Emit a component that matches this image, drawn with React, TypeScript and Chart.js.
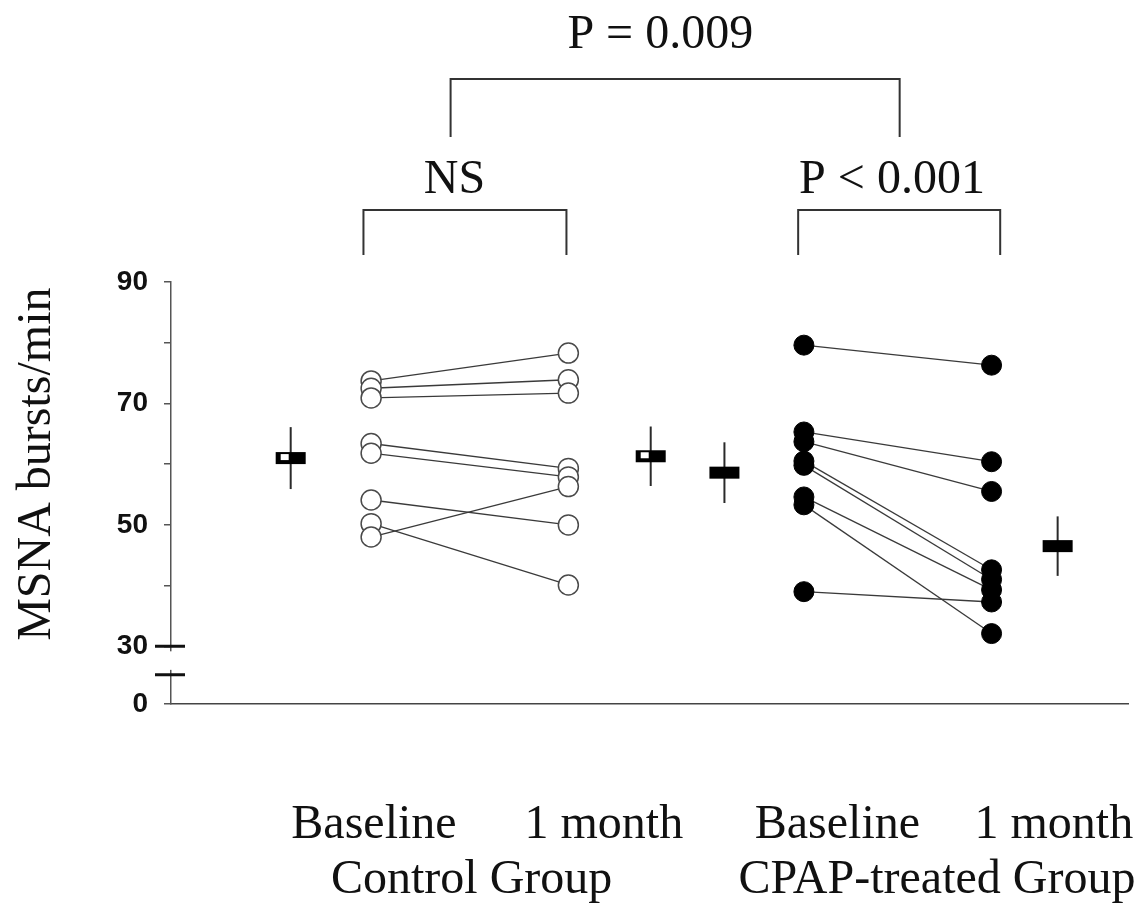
import React, { useEffect, useRef } from "react";
import { Chart, registerables } from "chart.js";

Chart.register(...registerables);

// ---- data ----
const yAxisTitle = "MSNA bursts/min";
const yMin = 20.5; // shown as "0" (broken axis)
const yMax = 90;
const yTickValues = [yMin, 30, 40, 50, 60, 70, 80, 90];
const yLabelledTicks = [30, 50, 70, 90];

// x positions (linear x-axis, 0..10)
const xCtrlBase = 2.09;
const xCtrlMonth = 4.15;
const xCpapBase = 6.61;
const xCpapMonth = 8.57;

const controlBaseline = [73.7, 72.5, 70.9, 63.4, 61.8, 54.1, 50.2, 48.0];
const controlMonth = [78.3, 73.9, 71.7, 59.3, 57.9, 50.0, 40.1, 56.3];

const cpapBaseline = [79.6, 65.3, 63.7, 60.5, 59.8, 54.6, 53.3, 39.0];
const cpapMonth = [76.3, 60.4, 55.5, 42.6, 41.0, 39.3, 32.1, 37.3];

// mean ± SD markers
const meanX = [1.25, 5.01, 5.78, 9.26];
const meanValues = [61.0, 61.3, 58.6, 46.5];
const meanSD = [5.1, 4.9, 5.0, 4.9];
const meanOpen = [true, true, false, false];

// x-axis labels
const categoryLabels = ["Baseline", "1 month", "Baseline", "1 month"];
const categoryLabelX = [2.12, 4.52, 6.96, 9.22];
const groupLabels = ["Control Group", "CPAP-treated Group"];
const groupLabelX = [3.14, 8.0];

// significance brackets
const bracketText = ["P = 0.009", "NS", "P < 0.001"];
const bracketFrom = [2.92, 2.01, 6.55];
const bracketTo = [7.61, 4.13, 8.66];
const bracketTextX = [5.11, 2.96, 7.53];

const SERIF = '"Liberation Serif", "Times New Roman", serif';

export default function App() {
  const ref = useRef<HTMLCanvasElement | null>(null);

  useEffect(() => {
    document.body.style.margin = "0";
    const canvas = ref.current;
    if (!canvas) return;

    const lineDatasets = [
      ...controlBaseline.map((b, i) => ({
        type: "line" as const,
        data: [
          { x: xCtrlBase, y: b },
          { x: xCtrlMonth, y: controlMonth[i] },
        ],
        borderColor: "#3a3a3a",
        borderWidth: 1.3,
        pointRadius: 0,
        showLine: true,
        fill: false,
        order: 2,
      })),
      ...cpapBaseline.map((b, i) => ({
        type: "line" as const,
        data: [
          { x: xCpapBase, y: b },
          { x: xCpapMonth, y: cpapMonth[i] },
        ],
        borderColor: "#3a3a3a",
        borderWidth: 1.3,
        pointRadius: 0,
        showLine: true,
        fill: false,
        order: 2,
      })),
    ];

    const pointDatasets = [
      {
        type: "scatter" as const,
        data: [
          ...controlBaseline.map((v) => ({ x: xCtrlBase, y: v })),
          ...controlMonth.map((v) => ({ x: xCtrlMonth, y: v })),
        ],
        pointRadius: 10,
        pointBackgroundColor: "#ffffff",
        pointBorderColor: "#4a4a4a",
        pointBorderWidth: 1.5,
        showLine: false,
        order: 0,
      },
      {
        type: "scatter" as const,
        data: [
          ...cpapBaseline.map((v) => ({ x: xCpapBase, y: v })),
          ...cpapMonth.map((v) => ({ x: xCpapMonth, y: v })),
        ],
        pointRadius: 10,
        pointBackgroundColor: "#000000",
        pointBorderColor: "#000000",
        pointBorderWidth: 1,
        showLine: false,
        order: 0,
      },
    ];

    const overlay = {
      id: "overlay",
      afterDatasetsDraw(chart: any) {
        const ctx = chart.ctx;
        const xs = chart.scales.x;
        const ys = chart.scales.y;
        ctx.save();
        // mean ± SD markers
        meanX.forEach((mx, i) => {
          const px = xs.getPixelForValue(mx);
          const py = ys.getPixelForValue(meanValues[i]);
          const top = ys.getPixelForValue(meanValues[i] + meanSD[i]);
          const bot = ys.getPixelForValue(meanValues[i] - meanSD[i]);
          ctx.strokeStyle = "#2a2a2a";
          ctx.lineWidth = 2;
          ctx.beginPath();
          ctx.moveTo(px, top);
          ctx.lineTo(px, bot);
          ctx.stroke();
          const w = 30;
          const h = 12;
          ctx.fillStyle = "#000";
          ctx.fillRect(px - w / 2, py - h / 2, w, h);
          if (meanOpen[i]) {
            ctx.fillStyle = "#fff";
            ctx.fillRect(px - w / 2 + 5, py - h / 2 + 2, 8, 6);
          }
        });
        ctx.restore();
      },
      afterDraw(chart: any) {
        const ctx = chart.ctx;
        const xs = chart.scales.x;
        const ys = chart.scales.y;
        const area = chart.chartArea;
        ctx.save();

        // axis break
        const ax = area.left;
        const yUp = ys.getPixelForValue(30);
        const yLow = ys.getPixelForValue(25.3);
        ctx.fillStyle = "#fff";
        ctx.fillRect(ax - 3, yUp + 5, 6, yLow - yUp - 10);
        ctx.strokeStyle = "#111";
        ctx.lineWidth = 3;
        ctx.beginPath();
        ctx.moveTo(ax - 16, yUp);
        ctx.lineTo(ax + 14, yUp);
        ctx.moveTo(ax - 16, yLow);
        ctx.lineTo(ax + 14, yLow);
        ctx.stroke();

        // y title
        ctx.fillStyle = "#111";
        ctx.font = `48px ${SERIF}`;
        ctx.save();
        ctx.translate(50, (area.top + ys.getPixelForValue(30)) / 2);
        ctx.rotate(-Math.PI / 2);
        ctx.textAlign = "center";
        ctx.textBaseline = "alphabetic";
        ctx.fillText(yAxisTitle, 0, 0);
        ctx.restore();

        // brackets
        const levels = [
          { yLine: area.top - 203, yEnd: area.top - 145, yText: area.top - 234 },
          { yLine: area.top - 72, yEnd: area.top - 27, yText: area.top - 89 },
          { yLine: area.top - 72, yEnd: area.top - 27, yText: area.top - 89 },
        ];
        ctx.strokeStyle = "#333";
        ctx.lineWidth = 2;
        bracketText.forEach((t, i) => {
          const L = levels[i];
          const x1 = xs.getPixelForValue(bracketFrom[i]);
          const x2 = xs.getPixelForValue(bracketTo[i]);
          ctx.beginPath();
          ctx.moveTo(x1, L.yEnd);
          ctx.lineTo(x1, L.yLine);
          ctx.lineTo(x2, L.yLine);
          ctx.lineTo(x2, L.yEnd);
          ctx.stroke();
          ctx.fillStyle = "#111";
          ctx.textAlign = "center";
          ctx.textBaseline = "alphabetic";
          ctx.fillText(t, xs.getPixelForValue(bracketTextX[i]), L.yText);
        });

        // x labels
        ctx.fillStyle = "#111";
        ctx.textAlign = "center";
        ctx.textBaseline = "alphabetic";
        categoryLabels.forEach((t, i) => {
          ctx.fillText(t, xs.getPixelForValue(categoryLabelX[i]), area.bottom + 134);
        });
        groupLabels.forEach((t, i) => {
          ctx.fillText(t, xs.getPixelForValue(groupLabelX[i]), area.bottom + 189);
        });
        ctx.restore();
      },
    };

    const chart = new Chart(canvas, {
      type: "scatter",
      data: { datasets: [...pointDatasets, ...lineDatasets] as any },
      options: {
        animation: false,
        responsive: false,
        maintainAspectRatio: false,
        layout: { padding: { top: 282, bottom: 202, left: 0, right: 7 } },
        plugins: { legend: { display: false }, tooltip: { enabled: false } },
        scales: {
          x: {
            type: "linear",
            min: 0,
            max: 10,
            ticks: { display: false },
            grid: { display: false, drawTicks: false },
            border: { display: true, color: "#444", width: 1.5 },
            afterFit: (s: any) => {
              s.height = 0;
            },
          },
          y: {
            type: "linear",
            min: yMin,
            max: yMax,
            afterBuildTicks: (s: any) => {
              s.ticks = yTickValues.map((value) => ({ value }));
            },
            afterFit: (s: any) => {
              s.width = 171;
            },
            ticks: {
              padding: 16,
              color: "#111",
              font: { family: "Liberation Sans", weight: "bold", size: 28 },
              callback: (v: any) =>
                v === yMin ? "0" : yLabelledTicks.includes(v) ? String(v) : "",
            },
            grid: {
              display: true,
              drawOnChartArea: false,
              drawTicks: true,
              tickLength: 7,
              color: "#555",
              lineWidth: 1.5,
            },
            border: { display: true, color: "#555", width: 1.5 },
          },
        },
      },
      plugins: [overlay],
    });

    return () => chart.destroy();
  }, []);

  return (
    <div style={{ width: 1140, height: 906, background: "#fff" }}>
      <canvas ref={ref} width={1140} height={906} style={{ display: "block" }} />
    </div>
  );
}
